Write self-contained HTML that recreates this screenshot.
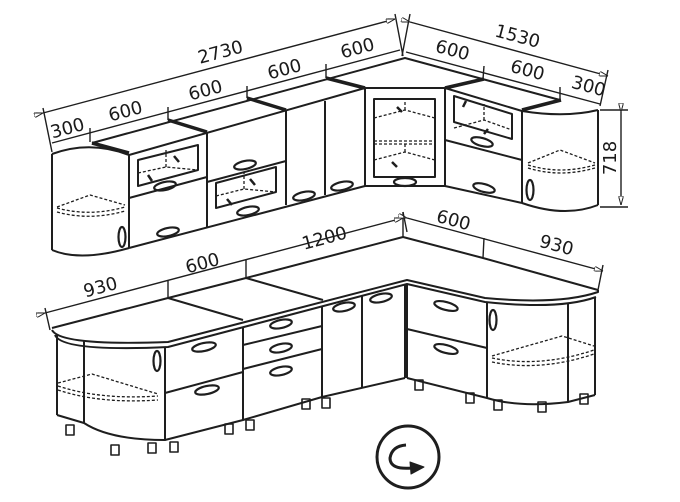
<!DOCTYPE html>
<html><head><meta charset="utf-8"><style>
html,body{margin:0;padding:0;background:#fff;}
svg{display:block;}
text{font-family:"DejaVu Sans","Liberation Sans",sans-serif;font-size:18px;fill:#1a1a1a;}
</style></head><body>
<svg width="680" height="502" viewBox="0 0 680 502" xmlns="http://www.w3.org/2000/svg">
<defs>
<marker id="ar" markerWidth="9" markerHeight="5" refX="9" refY="2.5" orient="auto" markerUnits="userSpaceOnUse"><path d="M0,0 L9,2.5 L0,5 Z" fill="#fff" stroke="#222" stroke-width="1"/></marker>
</defs>
<g fill="none" stroke="#1e1e1e" stroke-width="2" stroke-linejoin="round">
<path d="M92,143 L405,58 L560,100"/>
<path d="M129,155 L365,88 L445,88 L522,111"/>
<path d="M52,154 Q90,140 129,155"/>
<path d="M52,154 L52,250"/>
<path d="M52,250 Q80,262 129,248"/>
<path d="M522,111 Q565,118 598,110"/>
<path d="M598,110 L598,205"/>
<path d="M522,203 Q565,218 598,205"/>
<path d="M129,248 L365,186 L445,186 L522,203"/>
<path d="M129,155 V248 M207,133 V227 M286,111 V205 M325,101 V195 M365,88 V186 M445,88 V186 M522,111 V203"/>
<g stroke-width="3.5">
<path d="M92,143 L129,153 M168,120 L207,132 M247,98 L286,110 M326,78 L365,88 M445,88 L484,79 M522,110 L561,100"/>
</g>
<path d="M129,198 L207,177 M207,182 L286,161 M445,140 L522,160"/>
<path d="M138,160 L198,145 L198,170 L138,186 Z"/>
<path d="M216,183 L276,167 L276,192 L216,208 Z"/>
<path d="M374,99 L435,99 L435,177 L374,177 Z"/>
<path d="M454,96 L512,114 L512,139 L454,122 Z"/>
<g stroke-width="1.3" stroke-dasharray="3,2">
<path d="M138,173 L166,167 L198,170 M166,167 V150"/>
<path d="M216,196 L244,189 L276,192 M244,189 V173"/>
<path d="M374,118 L405,110 L435,118 M405,110 V98"/>
<path d="M374,141 L435,141 M374,144 L435,144"/>
<path d="M374,160 L405,152 L435,160 M405,152 V142"/>
<path d="M454,128 L484,120 L512,130 M484,120 V104"/>
<path d="M57,207 L90,195 L125,205 M57,208 Q90,217 125,207 M57,212 Q90,221 125,211"/>
<path d="M528,163 L560,150 L595,163 M528,165 Q560,175 595,165 M528,168 Q560,178 595,168"/>
</g>
<g stroke-width="2.2">
<ellipse cx="165" cy="186" rx="11" ry="4" transform="rotate(-12 165 186)"/>
<ellipse cx="168" cy="232" rx="11" ry="4" transform="rotate(-12 168 232)"/>
<ellipse cx="245" cy="165" rx="11" ry="4" transform="rotate(-12 245 165)"/>
<ellipse cx="248" cy="211" rx="11" ry="4" transform="rotate(-12 248 211)"/>
<ellipse cx="304" cy="196" rx="11" ry="4" transform="rotate(-12 304 196)"/>
<ellipse cx="342" cy="186" rx="11" ry="4" transform="rotate(-12 342 186)"/>
<ellipse cx="405" cy="182" rx="11" ry="4"/>
<ellipse cx="482" cy="142" rx="11" ry="4" transform="rotate(15 482 142)"/>
<ellipse cx="484" cy="188" rx="11" ry="4" transform="rotate(15 484 188)"/>
<ellipse cx="122" cy="237" rx="3.5" ry="10"/>
<ellipse cx="530" cy="190" rx="3.5" ry="10"/>
</g>
<g stroke-width="2.5">
<path d="M174,156 L179,162 M148,175 L152,181 M250,179 L255,185 M227,199 L232,205 M397,107 L402,112 M392,162 L397,167 M466,101 L463,107 M488,129 L484,134"/>
</g>
<g stroke-width="1.4">
<path d="M43,113 L395,19" marker-end="url(#ar)" marker-start="url(#ar)"/>
<path d="M52,143 L400,50"/>
<path d="M43,108 L52,152 M395,14 L403,56"/>
<path d="M90,128 L90,142 M168,107 L168,120 M247,86 L247,98 M326,64 L326,78"/>
<path d="M410,22 L608,76" marker-end="url(#ar)" marker-start="url(#ar)"/>
<path d="M406,52 L600,104"/>
<path d="M410,14 L402,56 M608,70 L600,106"/>
<path d="M484,66 L483,79 M560,87 L560,100"/>
<path d="M600,110 L628,110 M600,207 L628,207"/>
<path d="M621,112 L621,205" marker-end="url(#ar)" marker-start="url(#ar)"/>
</g>
<path d="M52,328 L168,298 L246,278 L403,237 L483,258 L598,290"/>
<path d="M52,330 Q60,346 168,342 L407,280 L485,298 Q560,305 598,292 L598,290"/>
<path d="M55,335 Q62,352 168,347 L407,284 L485,302 Q560,310 596,297"/>
<path d="M168,298 L243,320 M246,278 L323,300"/>
<path d="M57,335 V415 M84,340 V423 M165,347 V440 M243,327 V420 M322,306 V397 M362,296 V387 M405,285 V378 M407,285 V378 M487,303 V398 M568,303 V402 M595,297 V395"/>
<path d="M57,415 L84,423 Q110,440 165,440 L243,420 L322,397 L405,378"/>
<path d="M407,378 L487,398 Q520,408 568,402 L595,395"/>
<path d="M165,393 L243,372 M243,345 L322,326 M243,369 L322,349 M407,329 L487,348"/>
<g stroke-width="1.3" stroke-dasharray="3,2">
<path d="M58,383 L92,374 L158,394 M58,386 Q100,400 158,396 M58,390 Q100,404 158,400"/>
<path d="M492,356 L562,336 L594,346 M492,358 Q540,368 594,350 M492,362 Q540,372 594,354"/>
</g>
<g stroke-width="2.2">
<ellipse cx="204" cy="347" rx="12" ry="4" transform="rotate(-12 204 347)"/>
<ellipse cx="207" cy="390" rx="12" ry="4" transform="rotate(-12 207 390)"/>
<ellipse cx="281" cy="324" rx="11" ry="4" transform="rotate(-12 281 324)"/>
<ellipse cx="281" cy="348" rx="11" ry="4" transform="rotate(-12 281 348)"/>
<ellipse cx="281" cy="371" rx="11" ry="4" transform="rotate(-12 281 371)"/>
<ellipse cx="344" cy="307" rx="11" ry="4" transform="rotate(-12 344 307)"/>
<ellipse cx="381" cy="298" rx="11" ry="4" transform="rotate(-12 381 298)"/>
<ellipse cx="446" cy="306" rx="12" ry="4" transform="rotate(15 446 306)"/>
<ellipse cx="446" cy="349" rx="12" ry="4" transform="rotate(15 446 349)"/>
<ellipse cx="157" cy="361" rx="3.5" ry="10"/>
<ellipse cx="493" cy="320" rx="3.5" ry="10"/>
</g>
<g stroke-width="1.6">
<path d="M66,425 h8 v10 h-8z M111,445 h8 v10 h-8z M148,443 h8 v10 h-8z M170,442 h8 v10 h-8z M225,424 h8 v10 h-8z M246,420 h8 v10 h-8z M302,399 h8 v10 h-8z M322,398 h8 v10 h-8z M415,380 h8 v10 h-8z M466,393 h8 v10 h-8z M494,400 h8 v10 h-8z M538,402 h8 v10 h-8z M580,394 h8 v10 h-8z"/>
</g>
<g stroke-width="1.4">
<path d="M45,313 L403,218" marker-end="url(#ar)" marker-start="url(#ar)"/>
<path d="M45,308 L50,330 M168,281 L168,298 M246,260 L246,278 M403,212 L403,237"/>
<path d="M407,218 L603,271" marker-end="url(#ar)" marker-start="url(#ar)"/>
<path d="M403,212 L407,232 M484,238 L483,258 M603,265 L598,290"/>
</g>
<circle cx="408" cy="457" r="31" stroke-width="3"/>
<path d="M406,445 Q392,446 390,458 Q390,470 412,468" stroke-width="3"/>
<path d="M410,462 L424,467 L411,474 Z" fill="#1e1e1e" stroke-width="1"/>
</g>
<text transform="translate(222,58) rotate(-15)" text-anchor="middle">2730</text>
<text transform="translate(69,134) rotate(-15)" text-anchor="middle">300</text>
<text transform="translate(127,117) rotate(-15)" text-anchor="middle">600</text>
<text transform="translate(207,96) rotate(-15)" text-anchor="middle">600</text>
<text transform="translate(286,75) rotate(-15)" text-anchor="middle">600</text>
<text transform="translate(359,54) rotate(-15)" text-anchor="middle">600</text>
<text transform="translate(516,42) rotate(15)" text-anchor="middle">1530</text>
<text transform="translate(451,56) rotate(15)" text-anchor="middle">600</text>
<text transform="translate(526,76) rotate(15)" text-anchor="middle">600</text>
<text transform="translate(587,92) rotate(15)" text-anchor="middle">300</text>
<text transform="translate(616,158) rotate(-90)" text-anchor="middle">718</text>
<text transform="translate(102,293) rotate(-15)" text-anchor="middle">930</text>
<text transform="translate(204,269) rotate(-15)" text-anchor="middle">600</text>
<text transform="translate(326,244) rotate(-15)" text-anchor="middle">1200</text>
<text transform="translate(452,226) rotate(15)" text-anchor="middle">600</text>
<text transform="translate(555,251) rotate(15)" text-anchor="middle">930</text>
</svg>
</body></html>
